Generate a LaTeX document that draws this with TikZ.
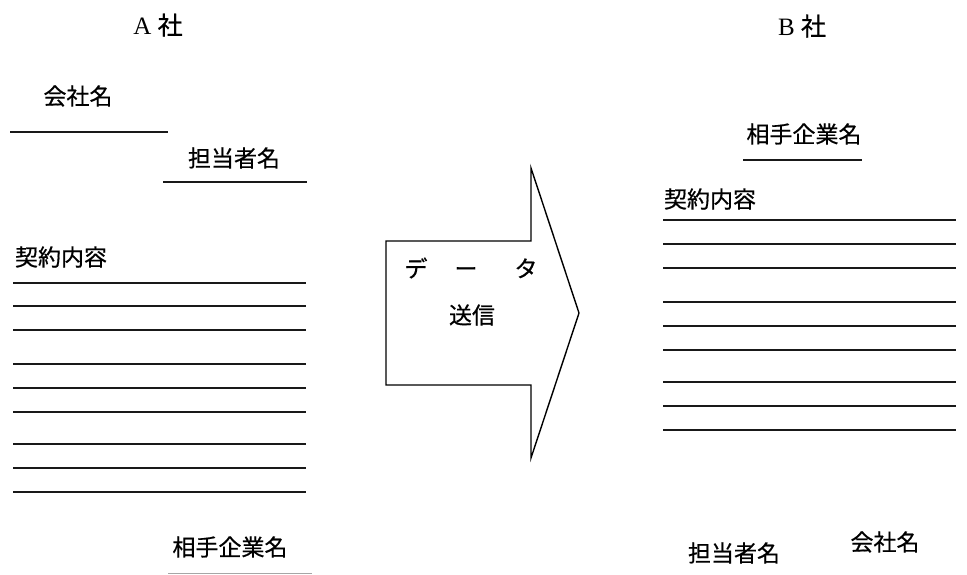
\documentclass[tikz,border=0pt]{standalone}
\usepackage{fontspec}
\setmainfont{Liberation Serif}
\newfontfamily\jp[FakeBold=0.6]{Noto Sans CJK JP}
\tikzset{
  jtext/.style={inner sep=0pt, font=\jp\fontsize{23}{23}\selectfont},
  title/.style={inner sep=0pt, font=\fontsize{25}{25}\selectfont},
  rule/.style={line width=1.9pt, black!90},
  arrowshape/.style={draw=black, line width=1.4pt, fill=white, line join=miter}
}
\begin{document}
\begin{tikzpicture}[x=1pt,y=-1pt]
\useasboundingbox (0,0) rectangle (967,574);
% titles
\node[title] (ta) at (158,25) {A {\jp 社}};
\node[title] (tb) at (802,26) {B {\jp 社}};
% left panel
\node[jtext] (a1) at (78,96) {会社名};
\draw[rule] (10,132) -- (168,132);
\node[jtext] (a2) at (234,158) {担当者名};
\draw[rule] (163,182) -- (307,182);
\node[jtext] (a3) at (61,257) {契約内容};
\foreach \y in {283,306,330,364,388,412,444,468,492}
  \draw[rule] (13,\y) -- (306,\y);
\node[jtext] (a4) at (230,547) {相手企業名};
\draw[black!35, line width=0.8pt] (168,573) -- (312,573);
% arrow
\draw[arrowshape] (386,241) -- (531,241) -- (531,168) -- (579,313) -- (531,458) -- (531,385) -- (386,385) -- cycle;
\node[jtext] (d1) at (471,268) {デ\hspace{27pt}ー\hspace{37pt}タ};
\node[jtext] (d2) at (472,315) {送信};
% right panel
\node[jtext] (b1) at (804,134) {相手企業名};
\draw[rule] (743,160) -- (862,160);
\node[jtext] (b2) at (710,199) {契約内容};
\foreach \y in {220,244,268,302,326,350,382,406,430}
  \draw[rule] (663,\y) -- (956,\y);
\node[jtext] (b3) at (734,553) {担当者名};
\node[jtext] (b4) at (885,542) {会社名};
\end{tikzpicture}
\end{document}
